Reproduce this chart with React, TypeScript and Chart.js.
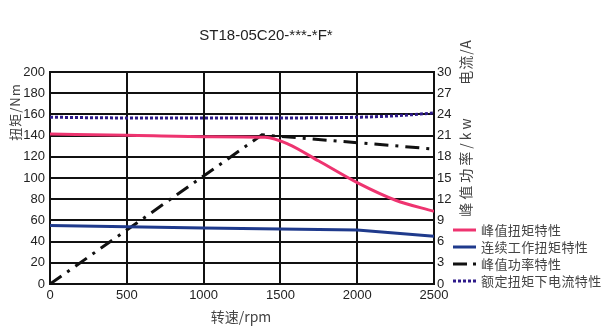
import React, { useEffect, useRef } from "react";
import { Chart, registerables } from "chart.js";

Chart.register(...registerables);

const titleText = "ST18-05C20-***-*F*";
const leftTitle = "扭矩/Nm";
const rightTitleTop = "电流/A";
const rightTitleBottom = "峰值功率/kw";
const xTitle = "转速/rpm";

const peakTorqueRpm = [0, 500, 1000, 1400, 1550, 1750, 2000, 2250, 2500];
const peakTorque = [141.5, 140.3, 139, 138.4, 132, 116, 95.6, 79, 68.5];

const contTorqueRpm = [0, 500, 1000, 1500, 2000, 2500];
const contTorque = [55.3, 54, 52.8, 52, 51, 45];

const peakPowerRpm = [0, 1380, 1500, 2000, 2500];
const peakPower = [0, 21.1, 20.9, 20.0, 19.1];

const currentRpm = [0, 500, 1000, 1500, 2000, 2250, 2500];
const current = [23.6, 23.5, 23.5, 23.5, 23.6, 23.8, 24.2];

const legendLabels = ["峰值扭矩特性", "连续工作扭矩特性", "峰值功率特性", "额定扭矩下电流特性"];
const colors = ["#ee3470", "#1f3a8c", "#111111", "#2e1a8a"];

const FONT = "'Liberation Sans Narrow', 'Liberation Sans', Arial, sans-serif";
const CJK = "'Noto Sans CJK SC', sans-serif";

const pts = (xs: number[], ys: number[]) => xs.map((x, i) => ({ x, y: ys[i] }));

const overlay = {
  id: "overlay",
  afterDraw(chart: any) {
    const ctx = chart.ctx;
    ctx.save();
    ctx.fillStyle = "#222";
    ctx.font = `15px ${FONT}`;
    ctx.textAlign = "center";
    ctx.textBaseline = "middle";
    ctx.fillText(titleText, 266, 36);

    ctx.fillStyle = "#444";
    ctx.font = `14px ${CJK}`;
    ctx.fillText(xTitle, 241, 317);

    const rot = (t: string, x: number, y: number, sp: string) => {
      ctx.save();
      ctx.translate(x, y);
      ctx.rotate(-Math.PI / 2);
      (ctx as any).letterSpacing = sp;
      ctx.fillText(t, 0, 0);
      ctx.restore();
    };
    ctx.font = `13px ${CJK}`;
    rot(leftTitle, 15, 112, "1px");
    ctx.font = `14px ${CJK}`;
    rot(rightTitleTop, 466, 62, "1px");
    rot(rightTitleBottom, 466, 166, "3px");

    const ys = [230, 247, 264, 281];
    const dashes = [[], [], [14, 6, 3, 6], [3, 2]];
    ctx.font = `13px ${CJK}`;
    ys.forEach((y, i) => {
      ctx.strokeStyle = colors[i];
      ctx.lineWidth = 3;
      ctx.setLineDash(dashes[i]);
      ctx.beginPath();
      ctx.moveTo(453, y);
      ctx.lineTo(i === 2 ? 479 : 476, y);
      ctx.stroke();
      ctx.setLineDash([]);
      ctx.fillStyle = "#444";
      ctx.textAlign = "left";
      (ctx as any).letterSpacing = "0.4px";
      ctx.fillText(legendLabels[i], 481, y);
    });
    ctx.restore();
  },
};

export default function App() {
  const ref = useRef<HTMLCanvasElement>(null);
  useEffect(() => {
    document.body.style.margin = "0";
    const chart = new Chart(ref.current!, {
      type: "line",
      data: {
        datasets: [
          {
            label: legendLabels[0],
            data: pts(peakTorqueRpm, peakTorque),
            borderColor: colors[0],
            borderWidth: 3,
            pointRadius: 0,
            cubicInterpolationMode: "monotone",
            yAxisID: "y",
          },
          {
            label: legendLabels[1],
            data: pts(contTorqueRpm, contTorque),
            borderColor: colors[1],
            borderWidth: 3,
            pointRadius: 0,
            yAxisID: "y",
          },
          {
            label: legendLabels[2],
            data: pts(peakPowerRpm, peakPower),
            borderColor: colors[2],
            borderWidth: 3,
            borderDash: [14, 7, 3, 7],
            pointRadius: 0,
            yAxisID: "y1",
          },
          {
            label: legendLabels[3],
            data: pts(currentRpm, current),
            borderColor: colors[3],
            borderWidth: 3,
            borderDash: [3, 2],
            pointRadius: 0,
            cubicInterpolationMode: "monotone",
            yAxisID: "y1",
          },
        ],
      } as any,
      options: {
        animation: false,
        responsive: false,
        layout: { padding: { top: 72, left: 0, right: 0, bottom: 0 } },
        plugins: { legend: { display: false }, title: { display: false }, tooltip: { enabled: false } },
        scales: {
          x: {
            type: "linear",
            min: 0,
            max: 2500,
            ticks: {
              stepSize: 500,
              color: "#222",
              font: { size: 13, family: FONT },
              padding: 4,
              callback: (v: any) => String(v),
            },
            grid: { color: "#111", lineWidth: 2, drawTicks: false },
            border: { color: "#111", width: 2 },
            afterFit: (s: any) => { s.height = 45; },
          },
          y: {
            position: "left",
            min: 0,
            max: 200,
            ticks: { stepSize: 20, color: "#222", font: { size: 13, family: FONT }, padding: 5, callback: (v: any) => String(v) },
            grid: { color: "#111", lineWidth: 2, drawTicks: false },
            border: { color: "#111", width: 2 },
            afterFit: (s: any) => { s.width = 50; },
          },
          y1: {
            position: "right",
            min: 0,
            max: 30,
            ticks: { stepSize: 3, color: "#222", font: { size: 13, family: FONT }, padding: 3, callback: (v: any) => String(v) },
            grid: { display: false, drawTicks: false },
            border: { color: "#111", width: 2 },
            afterFit: (s: any) => { s.width = 179; },
          },
        },
      } as any,
      plugins: [overlay],
    });
    return () => chart.destroy();
  }, []);
  return (
    <div style={{ width: 613, height: 329 }}>
      <canvas ref={ref} width={613} height={329} />
    </div>
  );
}
